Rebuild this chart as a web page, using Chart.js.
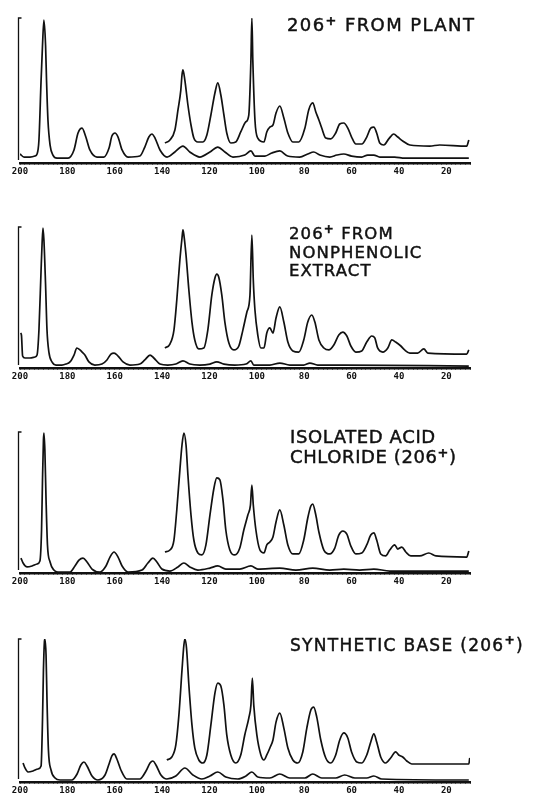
<!DOCTYPE html>
<html>
<head>
<meta charset="utf-8">
<script src="https://cdn.jsdelivr.net/npm/chart.js@4.4.1/dist/chart.umd.min.js"></script>
<style>
  html, body { margin: 0; padding: 0; background: #fff; }
  body { width: 534px; height: 794px; position: relative; overflow: hidden; }
  canvas { position: absolute; left: 0; }
  .titulo {
    position: absolute; color: #111; font-family: "DejaVu Sans", sans-serif;
    white-space: nowrap; -webkit-text-stroke: 0.45px #111;
  }
  .sup { position: relative; top: -0.5em; font-size: 0.72em; font-weight: bold; }
</style>
</head>
<body>
<script>
// m/z (eje x) contra intensidad relativa (%)
const mzTicks = [200, 180, 160, 140, 120, 100, 80, 60, 40, 20];

const titulos = [
  ['206+ FROM PLANT'],
  ['206+ FROM', 'NONPHENOLIC', 'EXTRACT'],
  ['ISOLATED ACID', 'CHLORIDE (206+)'],
  ['SYNTHETIC BASE (206+)']
];

// Panel 1: 206+ de la planta
const plantaNormal = [
  [200,6.2],[198.3,4.1],[195.8,4.1],[193.7,4.8],[192.8,6.2],[192.0,15.9],[191.1,57],[190.5,81],
  [189.9,98.6],[189.2,81],[188.8,57],[188.2,29.7],[187.3,12.4],[186.1,5.5],[184.4,3.4],
  [179.7,3.4],[177.2,9],[175.5,20.7],[173.8,24.1],[172.2,17.9],[170.5,9],[167.5,4.1],
  [164.6,4.1],[162.4,10.3],[161.2,18.6],[159.9,20.7],[158.6,17.9],[156.9,9],[154.4,4.1],
  [149.4,4.8],[147.3,11],[145.6,17.9],[144.3,20],[143.0,17.2],[140.9,9],[137.9,4.1],
  [134.6,7.6],[131.2,11.7],[128.3,7.6],[124.1,4.1],[119.8,7.6],[116.5,11],[113.5,7.6],
  [110.1,4.1],[105.1,5.5],[102.5,8.3],[100.8,4.8],[96.6,4.8],[93.7,6.9],[90.3,8.3],
  [87.0,4.8],[81.9,4.1],[78.5,6.2],[76.0,7.6],[73.4,5.5],[69.2,4.1],[66.2,5.5],[63.3,6.2],
  [60.0,4.8],[55.7,4.1],[53.2,5.5],[50.6,5.5],[48.1,4.1],[41.8,4.1],[37.6,3.4],[10.5,3.4]
];
const plantaAmpl = [
  [138.8,13.8],[136.7,15.9],[134.6,22.8],[133.3,36.6],[132.1,50.3],[131.6,60.7],[131.2,64.2],
  [130.4,57.2],[129.1,40],[127.8,26.2],[126.6,17.2],[124.9,14.5],[122.8,14.5],[121.1,19.3],
  [119.4,33.1],[117.7,48.3],[116.5,55.2],[115.2,46.9],[113.9,33.1],[112.7,20.7],[111,13.8],
  [108.9,14.5],[106.8,21.4],[104.7,28.3],[103.4,33.1],[102.5,71],[102.1,100],[101.7,71],
  [100.8,29.7],[99.6,17.2],[97.0,14.5],[95.8,21.4],[94.5,24.8],[93.2,26.2],[91.9,34.5],
  [90.3,39.3],[88.6,31],[86.9,20.7],[84.8,14.5],[82.3,14.5],[79.7,24.1],[78.1,36.6],
  [76.4,41.4],[75.1,35.2],[73.8,29.7],[72.6,24.1],[70.9,17.2],[68.8,16.6],[66.7,20.7],
  [65.0,26.9],[63.3,27.6],[61.6,24.1],[60.0,17.9],[58.2,13.1],[55.7,13.1],[53.6,17.9],
  [51.9,24.1],[50.6,24.8],[49.4,20.7],[48.1,13.8],[46.4,12.4],[44.3,16.6],[42.2,20],
  [40.5,17.9],[38.4,15.2],[35.4,12.4],[27,11.7],[22.8,12.4],[11.4,11.7],[10.5,15.9]
];

// Panel 2: extracto no fenolico
const extractoNormal = [
  [199.8,24.8],[199.4,23.4],[198.9,8.5],[197.9,7.1],[195.8,7.1],[193.7,7.8],[192.8,9.2],
  [192.0,26.9],[191.1,69.5],[190.7,87.2],[190.3,99.3],[189.9,90.8],[189.2,58.8],[188.6,26.9],
  [187.8,11.3],[186.5,4.3],[184.8,2.1],[182.3,2.1],[180.6,2.8],[178.9,4.3],[177.2,9.2],
  [176.0,14.2],[174.7,12.8],[173.8,11.3],[172.6,9.2],[170.9,4.3],[168.4,2.1],[165.4,2.8],
  [163.3,5.7],[161.6,9.9],[160.3,10.6],[158.6,8.5],[156.5,4.3],[153.6,2.1],[149.4,2.8],
  [147.3,5.7],[145.1,9.2],[143.5,7.1],[140.9,2.8],[137.6,2.1],[134.2,2.8],[131.2,5.0],
  [128.3,2.8],[124.1,2.1],[119.8,2.8],[116.9,4.3],[113.9,2.8],[109.3,2.1],[104.6,2.8],
  [102.5,5.0],[101.3,2.1],[94.5,2.1],[90.3,3.5],[86.1,2.1],[80.2,2.1],[77.6,3.5],[74.3,2.1],
  [62.9,2.1],[10.5,1.4]
];
const extractoAmpl = [
  [138.8,14.2],[136.7,17.0],[135.0,26.9],[133.8,48.2],[132.5,76.6],[131.6,92.2],[131.2,97.9],
  [130.8,94.3],[129.9,80.1],[128.7,55.3],[127.4,32.6],[126.2,19.9],[124.5,13.5],[122.4,14.2],
  [120.7,26.9],[119.0,51.8],[117.7,63.8],[116.9,66.6],[116.1,64.5],[114.8,51.8],[113.5,32.6],
  [111.8,17.7],[109.7,12.8],[107.6,15.6],[105.9,26.9],[104.2,39.7],[102.9,51.8],[102.1,94.3],
  [101.5,62.4],[100.8,41.1],[99.6,23.4],[98.3,14.2],[97.0,14.2],[95.8,24.8],[94.5,28.4],
  [93.2,24.8],[91.9,35.5],[90.3,43.3],[88.6,32.6],[86.9,18.4],[84.8,12.1],[82.3,11.3],
  [80.2,19.9],[78.5,32.6],[76.8,37.6],[75.5,32.6],[73.8,19.9],[71.7,14.2],[69.6,12.8],
  [67.5,16.3],[65.4,23.4],[63.7,25.5],[62.0,22.7],[60.3,15.6],[58.2,11.3],[55.7,12.1],
  [53.6,18.4],[51.5,22.7],[50.2,21.3],[49.0,14.2],[46.8,11.3],[44.7,14.2],[43.0,19.9],
  [41.4,18.4],[39.2,15.6],[37.6,12.8],[35.4,10.6],[32.1,10.6],[29.5,13.5],[27.8,10.6],
  [11.4,9.9],[10.5,12.8]
];

// Panel 3: cloruro de acido aislado
const cloruroNormal = [
  [199.6,10.6],[198.7,7.1],[197.0,4.3],[194.9,5.0],[192.8,6.4],[191.6,8.5],[190.9,30.5],
  [190.5,65.9],[190.1,94.3],[189.9,99.3],[189.5,87.2],[189.0,51.8],[188.4,19.9],[187.3,7.8],
  [185.7,2.1],[184.0,0.7],[178.9,0.7],[176.8,5.0],[175.1,9.2],[173.4,10.6],[171.7,7.8],
  [169.6,2.8],[166.2,0.7],[163.7,5.0],[162.0,11.3],[160.3,14.9],[158.6,11.3],[156.9,5.0],
  [154.4,0.7],[148.5,2.1],[146.0,7.1],[143.9,10.6],[142.2,7.8],[140.1,2.8],[136.7,1.4],
  [133.3,4.3],[130.8,7.1],[128.3,4.3],[124.9,2.1],[119.8,3.5],[116.5,5.0],[113.1,2.8],
  [107.2,2.8],[102.5,5.0],[99.6,2.8],[90.3,3.5],[83.5,2.1],[76.4,3.5],[69.2,2.1],[63.3,2.8],
  [56.6,2.1],[50.6,2.8],[43.9,1.4],[10.5,1.4]
];
const cloruroAmpl = [
  [138.8,14.9],[136.7,16.3],[135.0,23.4],[133.8,44.7],[132.5,73.0],[131.6,90.8],[130.8,99.3],
  [129.9,90.8],[129.1,69.5],[127.8,41.1],[126.6,23.4],[124.9,14.2],[123.2,12.8],[121.5,19.9],
  [119.8,41.1],[118.1,60.3],[116.9,67.4],[115.6,66.0],[114.3,51.8],[113.1,30.5],[111.4,16.3],
  [109.3,12.8],[107.2,17.7],[105.5,30.5],[103.8,41.1],[102.7,48.2],[102.1,62.4],[101.5,48.2],
  [100.4,30.5],[98.7,16.3],[97.0,14.2],[95.8,19.9],[94.5,22.0],[93.2,25.5],[91.9,36.2],
  [90.3,44.7],[88.6,34.0],[86.9,19.9],[84.8,13.5],[82.3,13.5],[80.2,23.4],[78.5,39.0],
  [77.2,47.5],[76.4,48.9],[75.1,41.1],[73.8,29.1],[71.7,16.3],[69.2,13.5],[67.1,17.7],
  [65.4,26.9],[63.7,29.8],[62.0,27.6],[60.3,19.1],[58.2,13.5],[55.7,14.2],[53.6,19.9],
  [51.9,26.9],[50.6,28.4],[49.4,23.4],[47.7,13.5],[45.6,12.1],[43.9,16.3],[41.8,19.9],
  [40.5,17.0],[38.8,18.4],[37.1,14.9],[35.0,12.1],[31.2,12.1],[27.4,14.2],[24.4,12.1],
  [11.4,11.3],[10.5,15.6]
];

// Panel 4: base sintetica
const sinteticaNormal = [
  [198.7,13.3],[197.9,9.8],[196.6,7.0],[194.5,7.7],[192.4,9.1],[191.1,11.2],[190.5,43.3],
  [190.1,78.3],[189.7,97.9],[189.5,100],[189.0,88.8],[188.6,57.3],[188.0,22.4],[186.9,8.4],
  [185.2,2.8],[183.1,1.4],[178.1,1.4],[175.9,5.6],[174.3,11.9],[173.0,14.0],[171.7,11.2],
  [169.6,4.2],[167.1,1.4],[164.1,4.9],[162.4,12.6],[161.2,18.2],[160.3,19.6],[159.1,16.1],
  [157.4,8.4],[154.9,2.1],[149.4,2.1],[146.8,7.7],[145.1,13.3],[143.9,14.7],[142.6,11.9],
  [140.5,4.9],[138.0,2.1],[134.2,4.2],[130.4,9.8],[127.0,4.9],[123.2,2.1],[119.8,4.2],
  [116.5,7.0],[113.1,3.5],[108.0,2.1],[104.6,4.2],[102.1,7.0],[99.6,3.5],[94.5,2.8],
  [90.3,5.6],[86.1,2.8],[79.7,2.8],[76.4,5.6],[72.6,2.8],[66.7,2.8],[62.9,4.9],[58.6,2.8],
  [53.6,2.8],[50.6,4.2],[47.3,2.1],[10.5,1.4]
];
const sinteticaAmpl = [
  [138.0,15.4],[135.9,17.5],[134.2,25.9],[132.9,46.9],[131.6,78.3],[130.8,95.8],[130.4,100],
  [129.7,93.7],[128.7,67.8],[127.4,39.9],[126.2,23.8],[124.5,15.4],[122.8,13.3],[121.1,18.9],
  [119.4,39.9],[117.7,62.2],[116.5,69.2],[115.2,67.1],[113.9,53.8],[112.7,32.9],[111.0,18.9],
  [108.9,13.3],[106.8,18.9],[105.1,32.9],[103.4,44.7],[102.5,53.8],[101.9,72.7],[101.3,53.8],
  [100.0,32.9],[98.3,18.9],[97.0,15.4],[95.8,18.9],[94.5,23.8],[93.2,29.4],[91.9,41.9],
  [90.3,48.2],[88.6,37.7],[86.9,23.8],[84.8,15.4],[82.7,13.3],[80.6,21.0],[78.9,37.7],
  [77.2,50.3],[76.0,52.4],[74.7,45.4],[73.0,29.4],[70.9,16.8],[68.8,13.3],[66.7,18.9],
  [65.0,29.4],[63.3,34.3],[61.6,30.8],[60.0,21.0],[57.8,14.0],[55.7,13.3],[53.6,18.9],
  [51.9,28.0],[50.6,33.6],[49.4,28.0],[47.7,17.5],[45.6,13.3],[43.5,16.8],[41.4,21.0],
  [40.1,18.9],[38.4,17.5],[36.7,14.7],[34.6,12.6],[10.5,12.6],[10.1,16.8]
];

const series = [
  [plantaNormal, plantaAmpl],
  [extractoNormal, extractoAmpl],
  [cloruroNormal, cloruroAmpl],
  [sinteticaNormal, sinteticaAmpl]
];

// posicion de cada panel en la pagina
const paneles = [
  { top: 0,   alto: 190, areaTop: 18, areaBottom: 163, tx: 287, ty: 16,    fs: 18,   lh: 18, ls: 1.4 },
  { top: 190, alto: 200, areaTop: 37, areaBottom: 178, tx: 289, ty: 224.5, fs: 16.5, lh: 18, ls: 1.1 },
  { top: 390, alto: 200, areaTop: 42, areaBottom: 183, tx: 290, ty: 427,   fs: 18,   lh: 20, ls: 0.6 },
  { top: 590, alto: 204, areaTop: 49, areaBottom: 192, tx: 290, ty: 635.5, fs: 17,   lh: 18, ls: 1.3 }
];

// corchete del eje de intensidad
const corchete = {
  id: 'corchete',
  afterDraw(chart) {
    const { ctx, chartArea } = chart;
    const y = chart.scales.y;
    const x0 = chartArea.left - 1.5;
    ctx.save();
    ctx.strokeStyle = '#111';
    ctx.lineWidth = 1.3;
    ctx.beginPath();
    ctx.moveTo(x0 + 3, y.getPixelForValue(100));
    ctx.lineTo(x0, y.getPixelForValue(100));
    ctx.lineTo(x0, chartArea.bottom - 3);
    ctx.stroke();
    ctx.restore();
  }
};

paneles.forEach((p, i) => {
  const canvas = document.createElement('canvas');
  canvas.width = 534;
  canvas.height = p.alto;
  canvas.style.top = p.top + 'px';
  document.body.appendChild(canvas);

  const div = document.createElement('div');
  div.className = 'titulo';
  div.style.left = p.tx + 'px';
  div.style.top = p.ty + 'px';
  div.style.fontSize = p.fs + 'px';
  div.style.lineHeight = p.lh + 'px';
  div.style.letterSpacing = p.ls + 'px';
  div.innerHTML = titulos[i]
    .map(t => t.replace('206+', '206<span class="sup">+</span>'))
    .join('<br>');
  document.body.appendChild(div);

  const [normal, ampl] = series[i];
  new Chart(canvas, {
    type: 'line',
    data: {
      datasets: [
        { data: normal.map(([x, y]) => ({ x, y })) },
        { data: ampl.map(([x, y]) => ({ x, y })) }
      ]
    },
    options: {
      responsive: false,
      animation: false,
      devicePixelRatio: 1,
      layout: {
        padding: { left: 20, right: 64, top: p.areaTop, bottom: p.alto - p.areaBottom - 12 }
      },
      elements: {
        line: { borderColor: '#111', borderWidth: 1.7, cubicInterpolationMode: 'monotone', fill: false },
        point: { radius: 0 }
      },
      plugins: { legend: { display: false }, tooltip: { enabled: false } },
      scales: {
        x: {
          type: 'linear',
          reverse: true,
          min: 10,
          max: 200,
          afterFit: s => { s.height = 12; },
          border: { display: true, color: '#111', width: 2.5 },
          grid: { drawOnChartArea: false, drawTicks: true, tickLength: 2, color: '#111', lineWidth: 1 },
          ticks: {
            stepSize: 2,
            autoSkip: false,
            maxRotation: 0,
            padding: 1,
            color: '#111',
            font: { family: 'DejaVu Sans Mono', size: 9, weight: 'bold' },
            callback: v => mzTicks.includes(v) ? String(v) : ''
          }
        },
        y: { display: false, min: 0, max: 100 }
      }
    },
    plugins: [corchete]
  });
});
</script>
</body>
</html>
